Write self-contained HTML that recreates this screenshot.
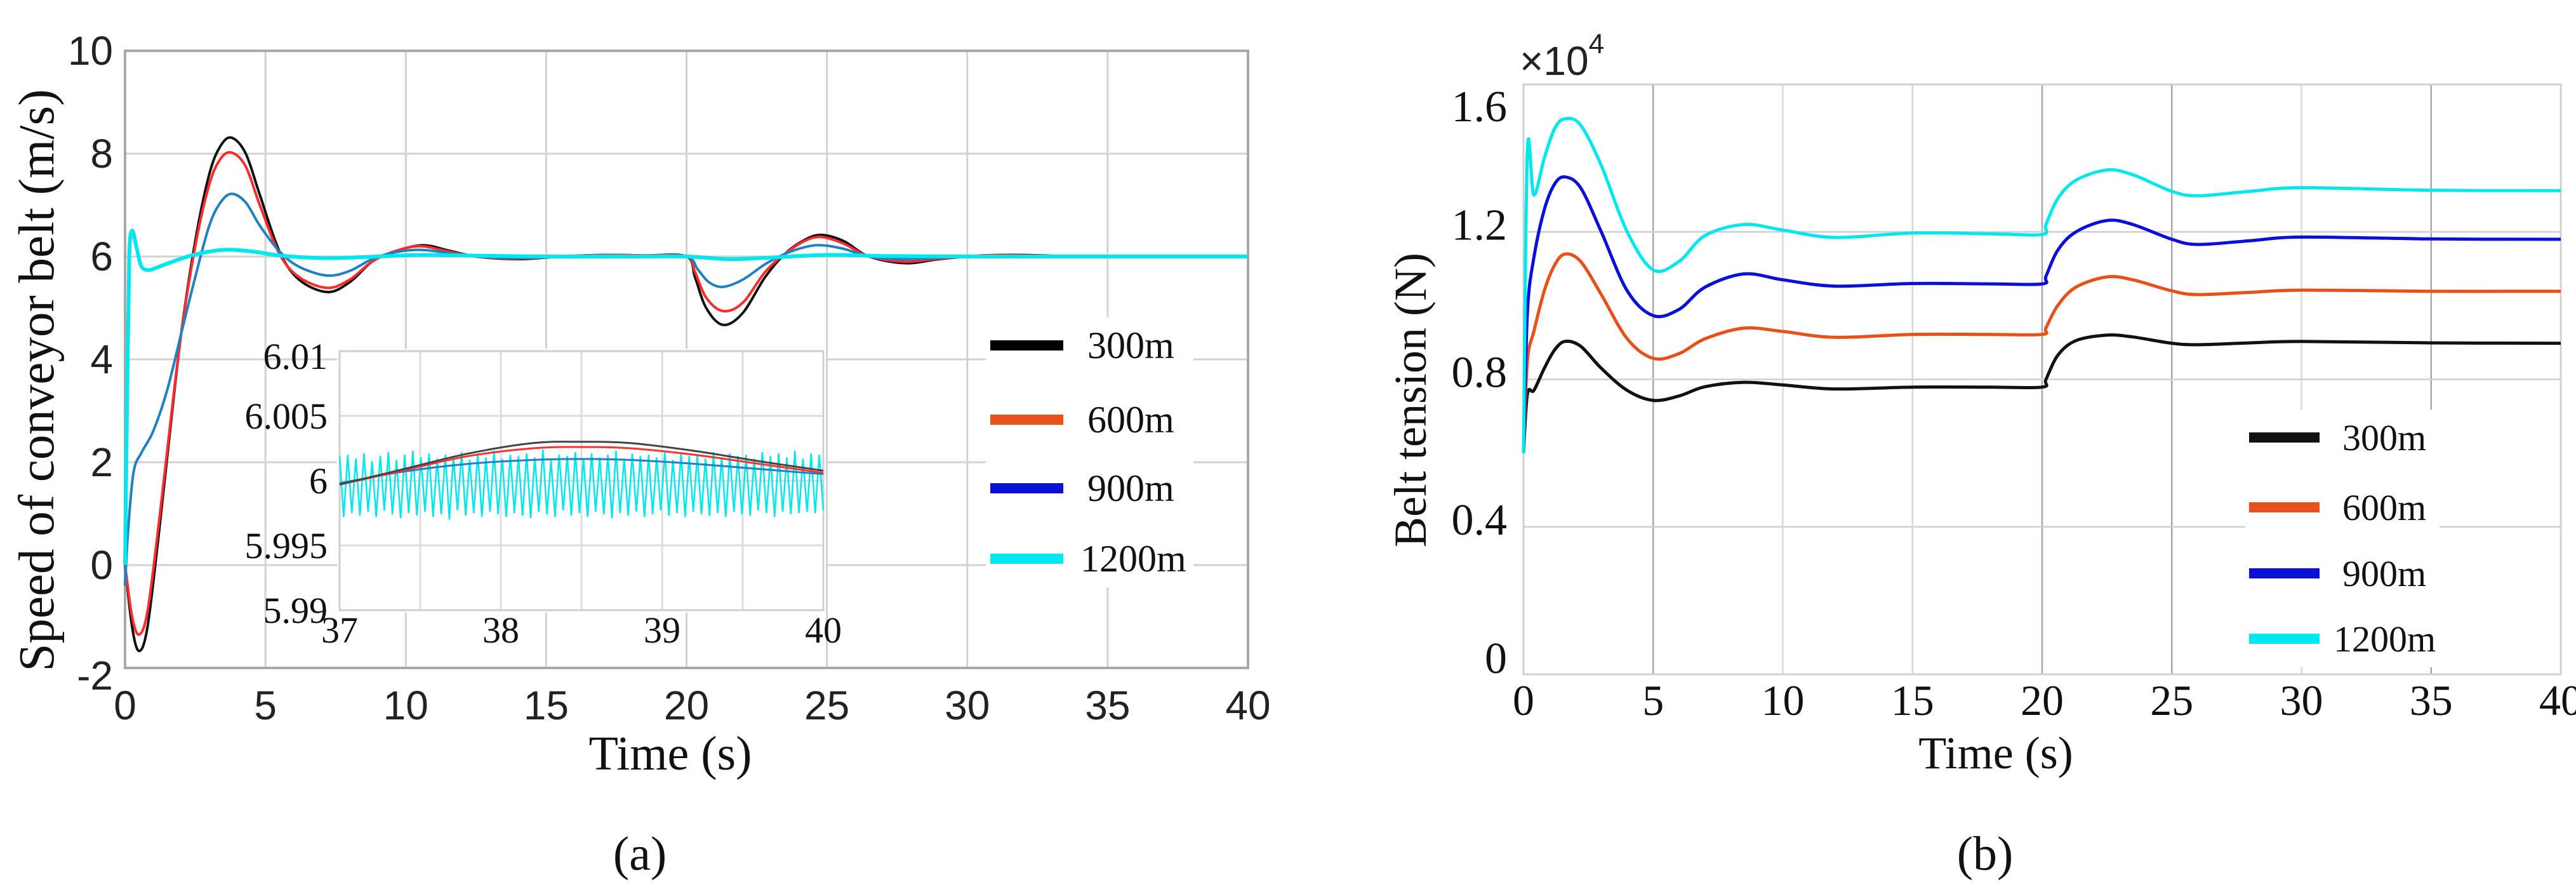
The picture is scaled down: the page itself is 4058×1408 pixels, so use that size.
<!DOCTYPE html>
<html><head><meta charset="utf-8"><style>
html,body{margin:0;padding:0;background:#fff;}
svg{display:block;}
.sans{font-family:"Liberation Sans",Arial,sans-serif;}
.serif{font-family:"Liberation Serif","Times New Roman",serif;}
</style></head><body>
<svg id="fig" width="4058" height="1408" viewBox="0 0 4058 1408" xmlns="http://www.w3.org/2000/svg">
<rect x="0" y="0" width="4058" height="1408" fill="#fff"/>
<g id="panelA"></g>
<g id="panelB"></g>
</svg>
<script>
// ---------- Panel A data (speed, m/s) ----------
const aXTicks = [0,5,10,15,20,25,30,35,40];
const aYTicks = [-2,0,2,4,6,8,10];
const aT300 = [0,0.25,0.5,0.8,1.2,1.6,2.0,2.5,3.0,3.4,3.8,4.3,4.8,5.5,6.2,7.2,8.0,8.8,9.6,10.6,11.5,12.5,14.0,15.5,17.0,18.5,20.0,20.3,20.7,21.3,22.0,22.8,23.5,24.2,24.8,25.6,26.5,27.8,29.0,30.5,32.0,34.0,37.0,40.0];
const aV300 = [0,-1.2,-1.67,-1.2,0.6,2.6,4.5,6.3,7.6,8.15,8.31,8.0,7.2,6.1,5.55,5.31,5.5,5.9,6.1,6.22,6.12,6.0,5.95,6.0,6.03,6.02,6.0,5.6,5.0,4.67,4.9,5.6,6.05,6.32,6.42,6.3,6.0,5.87,5.95,6.02,6.03,6.0,6.0,6.0];
const aT600 = [0,0.25,0.5,0.8,1.2,1.6,2.0,2.5,3.0,3.4,3.8,4.3,4.8,5.5,6.2,7.2,8.0,8.8,9.6,10.5,11.5,12.5,14.0,15.5,17.0,18.5,20.0,20.3,20.7,21.3,22.0,22.8,23.5,24.2,24.8,25.6,26.5,27.8,29.0,30.5,32.0,34.0,37.0,40.0];
const aV600 = [0,-1.0,-1.35,-0.9,0.8,2.7,4.5,6.2,7.4,7.9,8.02,7.75,7.0,6.05,5.6,5.39,5.55,5.9,6.1,6.2,6.1,6.0,5.96,6.0,6.03,6.02,6.0,5.7,5.2,4.94,5.1,5.7,6.05,6.3,6.38,6.25,6.0,5.9,5.96,6.02,6.02,6.0,6.0,6.0];
const aT900 = [0,0.1,0.3,0.6,1.0,1.5,2.0,2.5,3.0,3.4,3.8,4.3,4.8,5.5,6.2,7.2,8.0,8.8,9.6,10.5,11.5,12.5,14.0,15.5,17.0,18.5,20.0,20.4,20.8,21.3,22.0,22.8,23.5,24.2,24.8,25.6,26.5,27.8,29.0,30.5,32.0,34.0,37.0,40.0];
const aV900 = [-0.4,0.6,1.8,2.2,2.6,3.4,4.5,5.6,6.6,7.05,7.22,7.05,6.6,6.1,5.8,5.63,5.72,5.95,6.08,6.13,6.07,6.0,5.97,6.0,6.02,6.01,6.0,5.75,5.5,5.41,5.55,5.85,6.05,6.18,6.22,6.15,6.0,5.95,5.98,6.01,6.01,6.0,6.0,6.0];
const aT1200 = [0,0.08,0.15,0.25,0.4,0.55,0.7,0.9,1.2,1.8,2.5,3.5,4.5,5.5,6.5,7.5,9.0,10.5,12.0,15.0,18.0,20.0,21.5,23.0,25.0,27.0,30.0,35.0,40.0];
const aV1200 = [0,3.5,6.0,6.5,6.2,5.85,5.75,5.74,5.8,5.92,6.04,6.13,6.1,6.02,5.98,5.97,6.0,6.03,6.02,6.0,6.0,6.0,5.95,5.98,6.03,6.01,6.0,6.0,6.0];

// ---------- Inset data (37..40 s) ----------
const inXTicks = [37,38,39,40];
const inYTicks = [5.99,5.995,6,6.005,6.01];
const inT = [37,37.4,37.8,38.2,38.5,38.8,39.2,39.6,40];
const in300 = [5.9997,6.0009,6.0021,6.0029,6.0030,6.0029,6.0023,6.0015,6.00077];
const in600 = [5.9997,6.0008,6.0019,6.0025,6.0026,6.0025,6.0020,6.0013,6.0006];
const in900 = [5.9998,6.0007,6.0013,6.0016,6.00167,6.0016,6.0013,6.0009,6.0005];
const in1200 = [6.0019,5.9972,6.0020,5.9975,6.0017,5.9973,6.0021,5.9976,6.0015,5.9972,6.0019,5.9977,6.0022,5.9974,6.0016,5.9971,6.0020,5.9975,6.0023,5.9973,
6.0018,5.9976,6.0021,5.9972,6.0017,5.9974,6.0020,5.9970,6.0019,5.9977,6.0022,5.9973,6.0016,5.9975,6.0021,5.9972,6.0018,5.9976,6.0023,5.9974,
6.0017,5.9972,6.0020,5.9975,6.0019,5.9973,6.0021,5.9971,6.0018,5.9976,6.0024,5.9974,6.0016,5.9972,6.0020,5.9977,6.0019,5.9973,6.0022,5.9975,
6.0017,5.9972,6.0021,5.9976,6.0018,5.9974,6.0020,5.9971,6.0023,5.9975,6.0017,5.9973,6.0021,5.9976,6.0019,5.9972,6.0020,5.9974,6.0018,5.9977,
6.0022,5.9973,6.0016,5.9975,6.0021,5.9972,6.0019,5.9976,6.0020,5.9974,6.0017,5.9973,6.0022,5.9975,6.0018,5.9972,6.0021,5.9976,6.0019,5.9974,
6.0020,5.9973,6.0017,5.9977,6.0022,5.9975,6.0019,5.9972,6.0021,5.9976,6.0018,5.9974,6.0023,5.9975,6.0017,5.9976,6.0021,5.9975,6.0020,5.9977];

// ---------- Panel B data (tension, x10^4 N) ----------
const bXTicks = [0,5,10,15,20,25,30,35,40];
const bYTicks = [0,0.4,0.8,1.2,1.6];
const bYLabels = ["0","0.4","0.8","1.2","1.6"];
const bT = [0,0.15,0.4,0.8,1.2,1.6,2.2,3.0,4.0,5.0,6.0,7.0,8.5,10.0,12.0,15.0,18.0,20.0,20.15,20.6,21.3,22.5,23.5,25.0,26.0,28.0,30.0,35.0,40.0];
const b300 = [0.60,0.76,0.77,0.83,0.88,0.903,0.89,0.83,0.77,0.743,0.755,0.78,0.792,0.785,0.774,0.779,0.779,0.779,0.80,0.865,0.905,0.92,0.915,0.898,0.894,0.899,0.903,0.899,0.898];
const b600 = [0.60,0.85,0.93,1.04,1.11,1.14,1.12,1.03,0.91,0.857,0.87,0.91,0.939,0.93,0.914,0.922,0.922,0.922,0.94,1.00,1.05,1.078,1.07,1.04,1.03,1.036,1.042,1.039,1.039];
const b900 = [0.60,0.98,1.13,1.26,1.33,1.349,1.32,1.20,1.04,0.973,0.99,1.05,1.086,1.07,1.053,1.06,1.059,1.059,1.08,1.15,1.20,1.231,1.22,1.18,1.166,1.176,1.186,1.181,1.18];
const b1200 = [0.60,1.42,1.30,1.40,1.48,1.507,1.49,1.38,1.20,1.097,1.12,1.19,1.22,1.205,1.185,1.197,1.195,1.193,1.22,1.29,1.34,1.368,1.355,1.31,1.298,1.31,1.32,1.313,1.312];

const legendLabels = ["300m","600m","900m","1200m"];
const NS = "http://www.w3.org/2000/svg";

function mk(parent, tag, attrs, text){
  const el = document.createElementNS(NS, tag);
  for (const k in attrs) el.setAttribute(k, attrs[k]);
  if (text !== undefined) el.textContent = text;
  parent.appendChild(el);
  return el;
}
function lin(d0,d1,r0,r1){ return v => r0 + (v-d0)/(d1-d0)*(r1-r0); }
function smoothPath(xs, ys){
  const p = xs.map((x,i)=>[x,ys[i]]);
  let d = "M"+p[0][0].toFixed(1)+","+p[0][1].toFixed(1);
  for (let i=0;i<p.length-1;i++){
    const p0=p[Math.max(0,i-1)], p1=p[i], p2=p[i+1], p3=p[Math.min(p.length-1,i+2)];
    const c1x=p1[0]+(p2[0]-p0[0])/6, c1y=p1[1]+(p2[1]-p0[1])/6;
    const c2x=p2[0]-(p3[0]-p1[0])/6, c2y=p2[1]-(p3[1]-p1[1])/6;
    d += " C"+c1x.toFixed(1)+","+c1y.toFixed(1)+" "+c2x.toFixed(1)+","+c2y.toFixed(1)+" "+p2[0].toFixed(1)+","+p2[1].toFixed(1);
  }
  return d;
}

// ================= PANEL A =================
const A = document.getElementById('panelA');
const aL=197, aR=1966, aT=80, aB=1052;
const ax = lin(0,40,aL,aR), ay = lin(-2,10,aB,aT);
mk(A,'rect',{x:aL,y:aT,width:aR-aL,height:aB-aT,fill:'#fff'});
aXTicks.forEach(t=>{
  const g = mk(A,'line',{x1:ax(t),x2:ax(t),y1:aT,y2:aB,stroke:'#d2d2d2','stroke-width':3});
  
  
  const lb = mk(A,'text',{x:ax(t),y:1133,'text-anchor':'middle','font-size':64,fill:'#222',class:'sans'},String(t));
  
  
});
aYTicks.forEach(v=>{
  const g = mk(A,'line',{x1:aL,x2:aR,y1:ay(v),y2:ay(v),stroke:'#d2d2d2','stroke-width':3});
  
  
  const lb = mk(A,'text',{x:178,y:ay(v)+22+(v===-2?12:0),'text-anchor':'end','font-size':64,fill:'#222',class:'sans'},String(v));
  
  
});
mk(A,'rect',{x:aL,y:aT,width:aR-aL,height:aB-aT,fill:'none',stroke:'#a8a8a8','stroke-width':4});
const aSeries = [[aT300,aV300,'#111111','series-300m'],[aT600,aV600,'#ff2a2a','series-600m'],[aT900,aV900,'#1f80c4','series-900m'],[aT1200,aV1200,'#00e8ee','series-1200m']];
aSeries.forEach(s=>{
  const p = mk(A,'path',{d:smoothPath(s[0].map(ax),s[1].map(ay)),fill:'none',stroke:s[2],'stroke-width':s[3]==='series-1200m'?6:4});
  
  
});
const aYT = mk(A,'text',{x:0,y:0,transform:'translate(84,599) rotate(-90)','text-anchor':'middle','font-size':79,fill:'#111',class:'serif'},'Speed of conveyor belt (m/s)');


const aXT = mk(A,'text',{x:1056,y:1212,'text-anchor':'middle','font-size':76,fill:'#111',class:'serif'},'Time (s)');


const aCap = mk(A,'text',{x:1008,y:1370,'text-anchor':'middle','font-size':76,fill:'#111',class:'serif'},'(a)');



// inset
const iL=535, iR=1297, iT=553, iB=961;
const ix = lin(37,40,iL,iR), iy = lin(5.99,6.01,iB,iT);
const inset = mk(A,'g',{});


mk(inset,'rect',{x:iL-4,y:iT-4,width:iR-iL+8,height:iB-iT+8,fill:'#fff'});
[37,37.5,38,38.5,39,39.5,40].forEach(t=>{
  mk(inset,'line',{x1:ix(t),x2:ix(t),y1:iT,y2:iB,stroke:'#dcdcdc','stroke-width':3});
});
inYTicks.forEach((v,i)=>{
  mk(inset,'line',{x1:iL,x2:iR,y1:iy(v),y2:iy(v),stroke:'#dcdcdc','stroke-width':3});
  const lb = mk(inset,'text',{x:516,y:iy(v)+20+(i===4?8:0),'text-anchor':'end','font-size':58,fill:'#111',class:'serif'},String(v));
  
  
});
inXTicks.forEach(t=>{
  const lb = mk(inset,'text',{x:ix(t),y:1012,'text-anchor':'middle','font-size':58,fill:'#111',class:'serif'},String(t));
  
  
});
mk(inset,'rect',{x:iL,y:iT,width:iR-iL,height:iB-iT,fill:'none',stroke:'#cfcfcf','stroke-width':3});
const cy = mk(inset,'polyline',{points:in1200.map((v,i)=>ix(37+3*i/(in1200.length-1)).toFixed(1)+','+iy(v).toFixed(1)).join(' '),fill:'none',stroke:'#00e8ee','stroke-width':2.5});


[[in900,'#1f80c4','inset-line-900m'],[in600,'#ff3030','inset-line-600m'],[in300,'#444444','inset-line-300m']].forEach(s=>{
  const p = mk(inset,'path',{d:smoothPath(inT.map(ix),s[0].map(iy)),fill:'none',stroke:s[1],'stroke-width':3});
  
  
});

// legend A
const legA = mk(A,'g',{});


mk(legA,'rect',{x:1553,y:500,width:327,height:425,fill:'#fff'});
const legColorsA=['#000','#e8501a','#0a10d8','#00e8ee'];
const legYA=[544,661,769,880];
legendLabels.forEach((lbl,i)=>{
  const e = mk(legA,'g',{});
  
  
  mk(e,'line',{x1:1560,x2:1675,y1:legYA[i],y2:legYA[i],stroke:legColorsA[i],'stroke-width':16});
  mk(e,'text',{x:i===3?1702:1713,y:legYA[i]+20,'font-size':60,fill:'#111',class:'serif'},lbl);
});

// ================= PANEL B =================
const B = document.getElementById('panelB');
const bL=2400, bR=4034, bTp=133, bB=1062;
const bx = lin(0,40,bL,bR), by = lin(0,1.6,bB,bTp);
bXTicks.forEach(t=>{
  const g = mk(B,'line',{x1:bx(t),x2:bx(t),y1:bTp,y2:bB,stroke:(t===5||t===20||t===25||t===35)?'#a8a8a8':'#d8d8d8','stroke-width':2.5});
  
  
  const lb = mk(B,'text',{x:bx(t),y:1126,'text-anchor':'middle','font-size':68,fill:'#111',class:'serif'},String(t));
  
  
});
bYTicks.forEach((v,i)=>{
  if (i>0 && i<4){
    const g = mk(B,'line',{x1:bL,x2:bR,y1:by(v),y2:by(v),stroke:'#d0d0d0','stroke-width':2.5});
    
    
  }
  const lb = mk(B,'text',{x:2374,y:by(v)+(i===4?58:i===0?-2:12),'text-anchor':'end','font-size':70,fill:'#111',class:'serif'},bYLabels[i]);
  
  
});
mk(B,'rect',{x:bL,y:bTp,width:bR-bL,height:bB-bTp,fill:'none',stroke:'#d0d0d0','stroke-width':3});
const exp = mk(B,'text',{x:2394,y:118,'font-size':64,fill:'#222',class:'sans'},'×10');


mk(exp,'tspan',{dy:-34,'font-size':44},'4');
const bSeries=[[b300,'#111111','series-300m'],[b600,'#e8501a','series-600m'],[b900,'#0a10d8','series-900m'],[b1200,'#00e8ee','series-1200m']];
bSeries.forEach(s=>{
  const p = mk(B,'path',{d:smoothPath(bT.map(bx),s[0].map(by)),fill:'none',stroke:s[1],'stroke-width':5});
  
  
});
const bYT = mk(B,'text',{x:0,y:0,transform:'translate(2246,630) rotate(-90)','text-anchor':'middle','font-size':72,fill:'#111',class:'serif'},'Belt tension (N)');


const bXT = mk(B,'text',{x:3144,y:1210,'text-anchor':'middle','font-size':72,fill:'#111',class:'serif'},'Time (s)');


const bCap = mk(B,'text',{x:3127,y:1370,'text-anchor':'middle','font-size':76,fill:'#111',class:'serif'},'(b)');



const legB = mk(B,'g',{});


mk(legB,'rect',{x:3537,y:645,width:306,height:406,fill:'#fff'});
const legYB=[689,799,903,1006];
legendLabels.forEach((lbl,i)=>{
  const e = mk(legB,'g',{});
  
  
  mk(e,'line',{x1:3543,x2:3654,y1:legYB[i],y2:legYB[i],stroke:bSeries[i][1],'stroke-width':16});
  mk(e,'text',{x:i===3?3676:3690,y:legYB[i]+20,'font-size':58,fill:'#111',class:'serif'},lbl);
});
</script>
</body></html>
